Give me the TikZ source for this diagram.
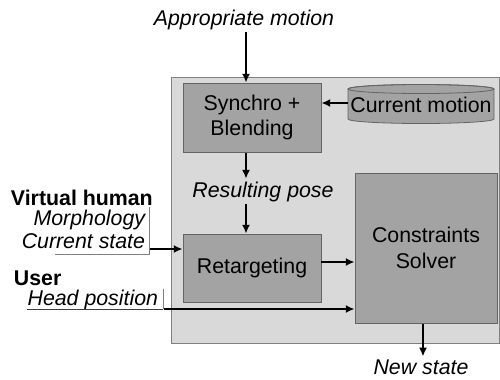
\documentclass[tikz,border=0pt]{standalone}
\usepackage{fontspec}
\setmainfont{Liberation Sans}
\usetikzlibrary{arrows.meta}
\definecolor{panelgray}{RGB}{217,217,217}
\definecolor{boxgray}{RGB}{163,163,163}
\definecolor{edgegray}{RGB}{100,100,100}
\tikzset{
	every node/.style={font=\fontsize{16pt}{19pt}\selectfont},
	block/.style={draw=edgegray,line width=0.75pt,fill=boxgray,align=center,minimum width=103.5pt},
	label/.style={inner sep=2pt,font=\fontsize{16pt}{19pt}\selectfont\itshape},
	title/.style={inner sep=2pt,font=\fontsize{16pt}{19pt}\selectfont\bfseries},
	arr/.style={line width=1.5pt,-{Latex[length=6.5pt,width=6pt]}},
	underl/.style={line width=0.6pt}
}
\begin{document}
\begin{tikzpicture}[x=0.75pt,y=-0.75pt]
	\useasboundingbox (0,0) rectangle (500,379);
	\draw[draw=gray,fill=panelgray,line width=0.75pt] (171,77) rectangle (499.5,343);
	\node[block,minimum height=51.75pt] (sync) at (252,117.5) {Synchro +\\Blending};
	\node[block,minimum height=51pt] (retarget) at (252,268) {Retargeting};
	\node[block,minimum width=106.5pt,minimum height=112.5pt] (solver) at (426,248) {Constraints\\Solver};
	\draw[draw=edgegray,fill=boxgray,line width=0.6pt] (348,89) -- (348,119) arc[start angle=180,end angle=0,x radius=73,y radius=4.5] -- (494,89) arc[start angle=0,end angle=-180,x radius=73,y radius=4.5] -- cycle;
	\draw[draw=edgegray,line width=0.6pt] (421,89) ellipse[x radius=73,y radius=4.5];
	\node[minimum width=109.5pt,inner sep=0pt] (cur) at (421,105) {Current motion};
	\node[label,anchor=base] (appr) at (244,25) {Appropriate motion};
	\node[label,anchor=base] (pose) at (263,197) {Resulting pose};
	\node[label,anchor=base] (newst) at (421,374) {New state};
	\node[title,anchor=base west] (vh) at (8,205) {Virtual human};
	\node[label,anchor=base east] (morph) at (148,225) {Morphology};
	\node[label,anchor=base east] (cstate) at (148,248) {Current state};
	\node[title,anchor=base west] (user) at (11,285) {User};
	\node[label,anchor=base east] (head) at (161,305) {Head position};
	\draw[underl,gray] (55,254) -- (149.5,254) -- (149.5,207);
	\draw[underl,darkgray] (27,309) -- (163,309);
	\draw[underl,gray] (163,309) -- (163,289);
	\coordinate (spine) at (246,0);
	\coordinate (vhout) at (150,249);
	\coordinate (hpout) at (164,309);
	\coordinate (rtout) at (321,262);
	\draw[arr] (appr.south -| spine) -- (sync.north -| spine);
	\draw[arr] (cur.west |- 0,103) -- (sync.east |- 0,103);
	\draw[arr] (sync.south -| spine) -- (pose.north -| spine);
	\draw[arr] (pose.south -| spine) -- (retarget.north -| spine);
	\draw[arr] (vhout) -- (vhout -| retarget.west);
	\draw[arr] (rtout) -- (rtout -| solver.west);
	\draw[arr] (hpout) -- (hpout -| solver.west);
	\draw[arr] (solver.south -| 423,0) -- (newst.north -| 423,0);
\end{tikzpicture}
\end{document}
